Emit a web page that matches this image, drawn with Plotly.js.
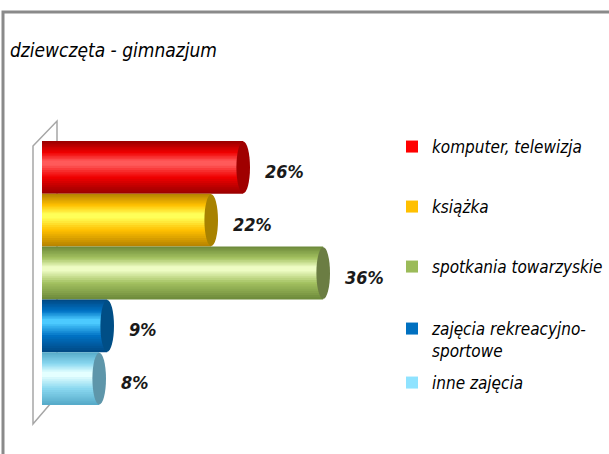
<!DOCTYPE html>
<html>
<head>
<meta charset="utf-8">
<script src="https://cdn.plot.ly/plotly-3.0.1.min.js"></script>
<style>
  body { margin: 0; background: #fff; }
  #chart { width: 609px; height: 454px; }
</style>
</head>
<body>
<div id="chart"></div>
<script>
// data
const categories = ["komputer, telewizja", "książka", "spotkania towarzyskie", "zajęcia rekreacyjno-<br>sportowe", "inne zajęcia"];
const values = [26, 22, 36, 9, 8];
const labels = ["26%", "22%", "36%", "9%", "8%"];

// cylinder shading: edge, body, highlight; end cap; legend colour
const shades = [
    ["#9c0000", "#f00000", "#ff5a5a"],
    ["#b88400", "#ffc000", "#ffff58"],
    ["#6f8c3c", "#a3c160", "#eefcc4"],
    ["#004a86", "#0072c4", "#4ccaff"],
    ["#58acca", "#8ad8f0", "#e4ffff"]
];
const capColors = ["#a00000", "#a88200", "#6b7d43", "#004e86", "#5e96aa"];
const legendColors = ["#ff0000", "#ffc000", "#9bbb59", "#0070c0", "#8fe3ff"];

const FONT = "DejaVu Sans Condensed, DejaVu Sans, sans-serif";
const W = 609, H = 454, L = 42, T = 141, B = 49;
const plotH = H - T - B, plotW = W - L;
const capR = 0.85;
const N = 14;

// pixel -> paper helpers for the decoration
const px = x => (x - L) / plotW;
const py = y => (H - B - y) / plotH;

function hex(c) { return [1, 3, 5].map(k => parseInt(c.substr(k, 2), 16)); }
function mix(a, b, t) {
    const A = hex(a), B2 = hex(b);
    return "rgb(" + A.map((v, k) => Math.round(v + (B2[k] - v) * t)).join(",") + ")";
}

const traces = [];
categories.forEach((name, i) => {
    for (let k = 0; k < N; k++) {
        const t = k / (N - 1);
        const w = 1 - 0.9 * t;
        const c = -0.08 * t;
        const col = t < 0.55 ? mix(shades[i][0], shades[i][1], t / 0.55) : mix(shades[i][1], shades[i][2], (t - 0.55) / 0.45);
        traces.push({
            type: "bar", orientation: "h",
            x: [values[i] - capR], y: [i],
            width: [w], offset: [c - w / 2],
            marker: { color: col, line: { width: 0 } },
            showlegend: false, hoverinfo: "skip"
        });
    }
});

// legend entries with the flat colours
categories.forEach((name, i) => {
    traces.push({
        type: "bar", orientation: "h", x: [null], y: [i], name: name,
        marker: { color: legendColors[i] },
        legend: i === 0 ? "legend" : "legend" + (i + 1),
        hoverinfo: "skip"
    });
});

const shapes = [
    // back wall
    {
        type: "path", xref: "paper", yref: "paper", layer: "below",
        path: `M${px(33)},${py(146)} L${px(57)},${py(121)} L${px(57)},${py(396)} L${px(33)},${py(424)} Z`,
        line: { color: "#a6a6a6", width: 1.5 }, fillcolor: "rgba(0,0,0,0)"
    },
    // outer frame
    {
        type: "path", xref: "paper", yref: "paper",
        path: `M${px(3)},${py(470)} L${px(3)},${py(12)} L${px(620)},${py(12)}`,
        line: { color: "#8a8a8a", width: 3 }
    }
];
// cylinder end caps
values.forEach((v, i) => {
    shapes.push({
        type: "circle", xref: "x", yref: "y",
        x0: v - 2 * capR, x1: v, y0: i - 0.49, y1: i + 0.49,
        fillcolor: capColors[i], line: { width: 0 }
    });
});

const annotations = values.map((v, i) => ({
    x: v, y: i, xref: "x", yref: "y",
    text: labels[i], showarrow: false,
    xanchor: "left", xshift: 13, yshift: -4,
    font: { family: FONT, size: 18, color: "#1a1a1a", weight: "bold", style: "italic" }
}));

const legendYs = [147, 207, 267, 325, 383];
const layout = {
    width: W, height: H,
    margin: { l: L, r: 0, t: T, b: B },
    paper_bgcolor: "#fff", plot_bgcolor: "rgba(0,0,0,0)",
    barmode: "overlay",
    title: {
        text: "dziewczęta - gimnazjum",
        x: 10 / W, xanchor: "left", y: 1 - 50 / H, yanchor: "middle",
        font: { family: FONT, size: 19, color: "#000", style: "italic" }
    },
    xaxis: { domain: [0, 360 / plotW], range: [0, 45], showgrid: false, zeroline: false, showticklabels: false, showline: false, fixedrange: true },
    yaxis: { range: [4.5, -0.5], showgrid: false, zeroline: false, showticklabels: false, showline: false, fixedrange: true },
    shapes: shapes,
    annotations: annotations,
    showlegend: true
};
legendYs.forEach((y, i) => {
    const key = i === 0 ? "legend" : "legend" + (i + 1);
    layout[key] = {
        x: px(392), xanchor: "left",
        y: i === 3 ? py(y - 14) : py(y), yanchor: i === 3 ? "top" : "middle",
        valign: "top",
        bgcolor: "rgba(0,0,0,0)",
        font: { family: FONT, size: 17, color: "#000", style: "italic" }
    };
});

Plotly.newPlot("chart", traces, layout, { staticPlot: true });
</script>
</body>
</html>
